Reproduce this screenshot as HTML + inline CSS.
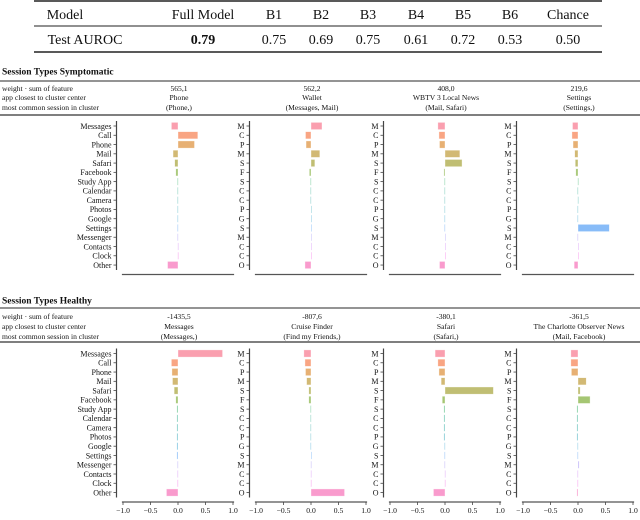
<!DOCTYPE html>
<html><head><meta charset="utf-8"><style>
html,body{margin:0;padding:0;background:#fff;}
svg, svg text{font-family:"Liberation Serif","DejaVu Serif",serif;}
</style></head><body>
<svg id="fig" width="640" height="515" viewBox="0 0 640 515" font-family="Liberation Serif, serif">
<g>
<line x1="34" y1="1" x2="602" y2="1" stroke="#222" stroke-width="1.6"/>
<line x1="34" y1="26" x2="602" y2="26" stroke="#222" stroke-width="1"/>
<line x1="34" y1="52" x2="602" y2="52" stroke="#222" stroke-width="1.6"/>
<g font-size="14" text-anchor="middle" fill="#111" font-family="Liberation Serif, serif">
<text x="65" y="19">Model</text>
<text x="203" y="19">Full Model</text>
<text x="274" y="19">B1</text>
<text x="321" y="19">B2</text>
<text x="368" y="19">B3</text>
<text x="416" y="19">B4</text>
<text x="463" y="19">B5</text>
<text x="510" y="19">B6</text>
<text x="568" y="19">Chance</text>
<text x="85" y="44">Test AUROC</text>
<text x="203" y="44" font-weight="bold">0.79</text>
<text x="274" y="44">0.75</text>
<text x="321" y="44">0.69</text>
<text x="368" y="44">0.75</text>
<text x="416" y="44">0.61</text>
<text x="463" y="44">0.72</text>
<text x="510" y="44">0.53</text>
<text x="568" y="44">0.50</text>
</g>
</g>
<g id="charts" font-family="Liberation Serif, serif"></g>
</svg>
<script>
const categories = ["Messages","Call","Phone","Mail","Safari","Facebook","Study App","Calendar","Camera","Photos","Google","Settings","Messenger","Contacts","Clock","Other"];
const colors = ["#f77189","#f67a48","#dc8a31","#bd9832","#a29f31","#7aab31","#32b166","#34af8f","#35aca5","#37aabb","#39a7d1","#4f9cf4","#9f8df4","#cd79f4","#f45fe5","#f66bb5"];
const symWeights = ["565,1","562,2","408,0","219,6"];
const symApps = ["Phone","Wallet","WBTV 3 Local News","Settings"];
const symSessions = ["(Phone,)","(Messages, Mail)","(Mail, Safari)","(Settings,)"];
const healWeights = ["-1435,5","-807,6","-380,1","-361,5"];
const healApps = ["Messages","Cruise Finder","Safari","The Charlotte Observer News"];
const healSessions = ["(Messages,)","(Find my Friends,)","(Safari,)","(Mail, Facebook)"];
const sym1 = [-0.12,0.36,0.30,-0.09,-0.06,-0.04,-0.01,-0.01,-0.01,-0.01,-0.01,-0.01,-0.01,-0.005,-0.005,-0.19];
const sym2 = [0.20,-0.10,-0.09,0.16,0.07,-0.03,-0.01,-0.01,-0.01,0.003,0.01,0.01,0.005,0.005,0.005,-0.11];
const sym3 = [-0.13,-0.11,-0.10,0.27,0.31,-0.02,-0.01,-0.01,-0.01,-0.01,-0.01,-0.01,0.003,0.005,0.005,-0.10];
const sym4 = [-0.10,-0.11,-0.09,-0.06,-0.05,-0.04,-0.005,-0.01,-0.005,-0.01,-0.01,0.57,-0.01,0.005,0.005,-0.07];
const heal1 = [0.81,-0.12,-0.11,-0.10,-0.07,-0.04,-0.02,-0.02,-0.02,-0.02,-0.02,-0.02,-0.01,-0.01,-0.01,-0.21];
const heal2 = [-0.13,-0.11,-0.10,-0.08,-0.04,-0.04,-0.01,-0.01,-0.01,-0.01,-0.01,0.01,-0.005,-0.005,-0.005,0.61];
const heal3 = [-0.18,-0.13,-0.11,-0.07,0.88,-0.05,-0.02,-0.02,-0.02,-0.02,-0.01,-0.01,-0.01,-0.005,-0.005,-0.21];
const heal4 = [-0.13,-0.13,-0.12,0.15,0.04,0.22,-0.02,-0.02,-0.02,-0.02,-0.01,-0.01,0.02,-0.01,-0.01,-0.02];
const xTicks = [-1.0,-0.5,0.0,0.5,1.0];
const xTickLabels = ["\u22121.0","\u22120.5","0.0","0.5","1.0"];

const NS = "http://www.w3.org/2000/svg";
const root = document.getElementById("charts");
function mk(tag, attrs, parent, txt){
  const e = document.createElementNS(NS, tag);
  for (const k in attrs) e.setAttribute(k, attrs[k]);
  if (txt !== undefined) e.textContent = txt;
  parent.appendChild(e);
  return e;
}
const zeros = [178, 311, 445, 578];
const unit = 55;
const rowGap = 9.27;
function xScale(p, v){ return zeros[p] + v * unit; }

function section(cfg){
  const g = mk("g", {}, root);
  
  
  const t = mk("text", {x:2, y:cfg.titleY+3.5, "font-size":9.5, "font-weight":"bold", fill:"#111"}, g, cfg.title);
  
  
  mk("line", {x1:0,y1:cfg.rule1,x2:640,y2:cfg.rule1,stroke:"#555","stroke-width":1.3}, g);
  mk("line", {x1:0,y1:cfg.rule2,x2:640,y2:cfg.rule2,stroke:"#555","stroke-width":1.6}, g);
  const leftLabels = ["weight \u00b7 sum of feature","app closest to cluster center","most common session in cluster"];
  const rows = [cfg.weights, cfg.apps, cfg.sessions];
  for (let r=0;r<3;r++){
    const lt = mk("text", {x:2, y:cfg.hdrY[r]+3, "font-size":7.6, fill:"#111"}, g, leftLabels[r]);
    
    
    for (let p=0;p<4;p++){
      const ht = mk("text", {x:zeros[p]+1, y:cfg.hdrY[r]+3, "font-size":7.6, "text-anchor":"middle", fill:"#111"}, g, rows[r][p]);
      
      
    }
  }
  for (let p=0;p<4;p++){
    const pg = mk("g", {}, g);
    
    
    const ax = zeros[p] - 61.5;
    const y0 = cfg.rowY, yN = cfg.rowY + rowGap*15;
    mk("line", {x1:ax,y1:y0-5,x2:ax,y2:yN+5,stroke:"#444","stroke-width":1.2}, pg);
    const vals = cfg.series[p];
    for (let i=0;i<categories.length;i++){
      const y = cfg.rowY + i*rowGap;
      mk("line", {x1:ax-3,y1:y,x2:ax,y2:y,stroke:"#444","stroke-width":0.8}, pg);
      const lbl = p===0 ? categories[i] : categories[i][0];
      const tl = mk("text", {x:ax-5, y:y+2.8, "font-size":8, "text-anchor":"end", fill:"#111"}, pg, lbl);
      
      
      const v = vals[i];
      const xa = xScale(p, Math.min(0,v)), xb = xScale(p, Math.max(0,v));
      const b = mk("rect", {x:xa, y:y-3.6, width:Math.max(0.8,xb-xa), height:7.2, fill:colors[i], "fill-opacity":0.68, stroke:"#fff", "stroke-opacity":0.6, "stroke-width":0.6}, pg);
      
      
    }
    const xl = xScale(p,-1.02), xr = xScale(p,1.02);
    mk("line", {x1:xl,y1:cfg.axisY,x2:xr,y2:cfg.axisY,stroke:"#555","stroke-width":1.3}, pg);
    if (cfg.ticks){
      for (let k=0;k<xTicks.length;k++){
        const tx = xScale(p, xTicks[k]);
        mk("line", {x1:tx,y1:cfg.axisY,x2:tx,y2:cfg.axisY+3,stroke:"#444","stroke-width":0.8}, pg);
        const tt = mk("text", {x:tx, y:cfg.axisY+11, "font-size":7.6, "text-anchor":"middle", fill:"#111"}, pg, xTickLabels[k]);
        
        
      }
    }
  }
}
section({name:"symptomatic-section", title:"Session Types Symptomatic", titleY:71, rule1:81, rule2:115, hdrY:[88,97,107],
  weights:symWeights, apps:symApps, sessions:symSessions, rowY:126, axisY:274.5, ticks:false,
  series:[sym1,sym2,sym3,sym4]});
section({name:"healthy-section", title:"Session Types Healthy", titleY:300, rule1:308, rule2:342, hdrY:[316,326,336],
  weights:healWeights, apps:healApps, sessions:healSessions, rowY:353.5, axisY:502, ticks:true,
  series:[heal1,heal2,heal3,heal4]});
</script>
</body></html>
